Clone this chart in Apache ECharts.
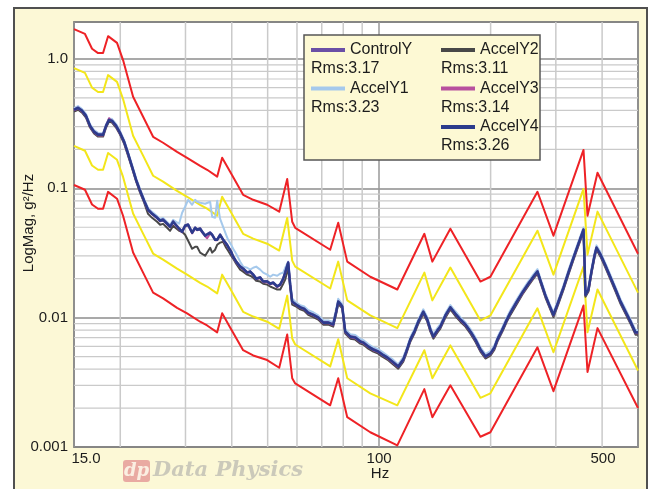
<!DOCTYPE html>
<html>
<head>
<meta charset="utf-8">
<script src="https://cdn.jsdelivr.net/npm/echarts@6/dist/echarts.min.js"></script>
<style>
  html, body { margin: 0; padding: 0; background: #ffffff; }
  #wrap { position: relative; width: 650px; height: 489px; overflow: hidden; }
  #frame { position: absolute; left: 13px; top: 7px; width: 635px; height: 490px; box-sizing: border-box;
           background: #fcf8d6; border: 2px solid #505050; }
  #chart { position: absolute; left: 0; top: 0; width: 650px; height: 489px; }
</style>
</head>
<body>
<div id="wrap"><div id="frame"></div><div id="chart"></div></div>
<script>
// Test profile limit lines (abort / alarm), breakpoints in Hz
const limitHz = [15, 16.06, 16.78, 17.42, 17.97, 18.54, 19.6, 20.35, 21.66, 23.05, 24.53, 26.1, 28.47, 30.3, 32.86, 34.32, 36.53, 37.68, 39.6, 42.93, 45.7, 49.85, 53.73, 56.47, 58.25, 59.35, 73.77, 77.54, 78.51, 82.01, 94.64, 111.97, 132.47, 139.24, 155.7, 187.7, 199.7, 267.6, 295.6, 356.3, 365.3, 388.7, 500];
const abortHigh = [1.70, 1.56, 1.20, 1.11, 1.11, 1.50, 1.33, 0.98, 0.51, 0.357, 0.250, 0.225, 0.191, 0.172, 0.149, 0.139, 0.123, 0.172, 0.134, 0.089, 0.0815, 0.0746, 0.0659, 0.118, 0.0551, 0.0495, 0.0335, 0.0542, 0.0532, 0.0271, 0.0207, 0.0165, 0.0445, 0.0271, 0.0487, 0.0190, 0.0207, 0.0940, 0.0430, 0.198, 0.0613, 0.132, 0.0312];
const alarmHigh = [0.85, 0.78, 0.60, 0.555, 0.555, 0.75, 0.665, 0.49, 0.255, 0.179, 0.125, 0.1125, 0.0955, 0.086, 0.0745, 0.0695, 0.0615, 0.086, 0.067, 0.0445, 0.0408, 0.0373, 0.033, 0.059, 0.0276, 0.0248, 0.0168, 0.0271, 0.0266, 0.0136, 0.0104, 0.0083, 0.0223, 0.0136, 0.0244, 0.0095, 0.0104, 0.047, 0.0215, 0.099, 0.0307, 0.066, 0.0156];
const alarmLow = [0.2125, 0.195, 0.15, 0.139, 0.139, 0.1875, 0.166, 0.1225, 0.0638, 0.0446, 0.0313, 0.0281, 0.0239, 0.0215, 0.0186, 0.0174, 0.0154, 0.0215, 0.0168, 0.0111, 0.0102, 0.0093, 0.0082, 0.0148, 0.0069, 0.0062, 0.0042, 0.0068, 0.0067, 0.0034, 0.0026, 0.0021, 0.0056, 0.0034, 0.0061, 0.0024, 0.0026, 0.0118, 0.0054, 0.0248, 0.0077, 0.0165, 0.0039];
const abortLow = [0.106, 0.0975, 0.075, 0.0694, 0.0694, 0.0938, 0.0831, 0.0613, 0.0319, 0.0223, 0.0156, 0.0141, 0.0119, 0.0108, 0.0093, 0.0087, 0.0077, 0.0108, 0.0084, 0.0056, 0.0051, 0.0047, 0.0041, 0.0074, 0.0034, 0.0031, 0.0021, 0.0034, 0.0033, 0.0017, 0.0013, 0.00103, 0.0028, 0.0017, 0.003, 0.0012, 0.0013, 0.0059, 0.0027, 0.0124, 0.0038, 0.0083, 0.002];

// Measured channels, shared frequency lines (Hz)
const freqHz = [
  15, 15.38, 15.77, 16.16, 16.57, 16.99, 17.42, 17.97, 18.31, 18.65,
  19.0, 19.48, 19.97, 20.48, 20.99, 21.52, 22.07, 22.62, 23.19, 23.77,
  24.37, 25.14, 25.62, 26.1, 26.76, 27.26, 27.78, 28.12, 28.83, 29.38,
  29.93, 30.5, 31.26, 31.85, 32.25, 32.86, 33.27, 33.9, 34.32, 34.97,
  35.41, 36.07, 36.53, 37.21, 37.91, 38.63, 39.11, 39.85, 40.35, 41.11,
  42.15, 42.94, 44.02, 44.85, 45.7, 46.56, 47.73, 48.63, 49.86, 50.8,
  51.76, 53.06, 54.06, 55.08, 55.77, 56.81, 57.52, 58.24, 59.71, 61.22,
  62.76, 64.34, 66.38, 68.48, 70.64, 72.88, 75.16, 76.58, 77.54, 78.51,
  79.49, 80.99, 83.56, 86.2, 88.93, 90.61, 93.47, 96.43, 99.47, 102.0,
  105.2, 108.5, 112.6, 116.2, 118.4, 121.4, 124.5, 127.6, 131.6, 134.9,
  137.5, 140.1, 143.6, 146.3, 151.0, 155.7, 160.6, 165.7, 171.0, 176.4,
  181.9, 187.7, 193.6, 199.7, 204.8, 208.6, 215.2, 220.6, 226.2, 234.8,
  243.7, 253.0, 261.0, 267.6, 274.3, 281.2, 288.3, 295.6, 304.9, 314.5,
  324.4, 334.9, 345.4, 356.3, 358.5, 360.7, 367.5, 374.4, 381.5, 386.3,
  396.0, 408.5, 421.4, 434.8, 448.5, 462.7, 477.3, 492.3, 500
];
const controlY = [
  0.408, 0.422, 0.401, 0.367, 0.307, 0.276, 0.262, 0.262, 0.307, 0.341,
  0.335, 0.307, 0.271, 0.231, 0.187, 0.148, 0.117, 0.0966, 0.0809, 0.0689,
  0.0641, 0.0598, 0.0567, 0.0577, 0.0537, 0.0509, 0.0557, 0.0547, 0.0492, 0.0466,
  0.0518, 0.0528, 0.0458, 0.0500, 0.0483, 0.0492, 0.0466, 0.0434, 0.0419, 0.0458,
  0.0441, 0.0404, 0.0404, 0.0441, 0.0404, 0.0377, 0.0357, 0.0326, 0.0299, 0.0274,
  0.0250, 0.0241, 0.0225, 0.0229, 0.0217, 0.0202, 0.0206, 0.0192, 0.0192, 0.0185,
  0.0188, 0.0176, 0.0182, 0.0202, 0.0225, 0.0269, 0.0182, 0.0134, 0.0127, 0.0121,
  0.0118, 0.0110, 0.0106, 0.0101, 0.00924, 0.00924, 0.00892, 0.0112, 0.0134, 0.0129,
  0.0123, 0.00787, 0.00720, 0.00708, 0.00660, 0.00647, 0.00603, 0.00572, 0.00551, 0.00523,
  0.00496, 0.00462, 0.00422, 0.00479, 0.00551, 0.00683, 0.00787, 0.00940, 0.0112, 0.00975,
  0.00816, 0.00720, 0.00802, 0.00861, 0.0105, 0.0121, 0.0108, 0.00975, 0.00892, 0.00787,
  0.00683, 0.00572, 0.00505, 0.00532, 0.00593, 0.00683, 0.00816, 0.00957, 0.0110, 0.0132,
  0.0158, 0.0185, 0.0209, 0.0229, 0.0185, 0.0149, 0.0125, 0.0106, 0.0134, 0.0172,
  0.0225, 0.0294, 0.0377, 0.0483, 0.0283, 0.0152, 0.0167, 0.0229, 0.0304, 0.0350,
  0.0310, 0.0255, 0.0206, 0.0167, 0.0134, 0.0112, 0.00940, 0.00774, 0.00774
];
const accelY1 = [
  0.416, 0.432, 0.410, 0.376, 0.314, 0.282, 0.268, 0.266, 0.312, 0.346,
  0.343, 0.315, 0.277, 0.237, 0.191, 0.152, 0.120, 0.0990, 0.0828, 0.0706,
  0.0657, 0.0611, 0.0580, 0.0590, 0.0550, 0.0522, 0.0570, 0.0560, 0.0532, 0.0647,
  0.0720, 0.0815, 0.0746, 0.0815, 0.0787, 0.0773, 0.0801, 0.0760, 0.0746, 0.0787,
  0.0602, 0.0592, 0.0801, 0.0581, 0.0504, 0.0437, 0.0400, 0.0366, 0.0341, 0.0312,
  0.0271, 0.0248, 0.0243, 0.0235, 0.0243, 0.0248, 0.0235, 0.0223, 0.0215, 0.0207,
  0.0215, 0.0211, 0.0219, 0.0223, 0.0243, 0.0271, 0.0190, 0.0140, 0.0131, 0.0125,
  0.0122, 0.0114, 0.0110, 0.0104, 0.00955, 0.00950, 0.00925, 0.0117, 0.0140, 0.0133,
  0.0127, 0.00815, 0.00745, 0.00735, 0.00685, 0.00670, 0.00625, 0.00590, 0.00570, 0.00545,
  0.00510, 0.00478, 0.00435, 0.00495, 0.00570, 0.00705, 0.00815, 0.00970, 0.0116, 0.0101,
  0.00845, 0.00745, 0.00830, 0.00890, 0.0108, 0.0125, 0.0112, 0.0101, 0.00920, 0.00815,
  0.00705, 0.00590, 0.00522, 0.00550, 0.00612, 0.00705, 0.00845, 0.00990, 0.0114, 0.0137,
  0.0163, 0.0191, 0.0216, 0.0237, 0.0191, 0.0154, 0.0129, 0.0110, 0.0139, 0.0177,
  0.0233, 0.0303, 0.0389, 0.0498, 0.0292, 0.0157, 0.0172, 0.0237, 0.0314, 0.0362,
  0.0320, 0.0263, 0.0213, 0.0172, 0.0139, 0.0116, 0.00970, 0.00800, 0.00800
];
const accelY2 = [
  0.392, 0.405, 0.385, 0.352, 0.295, 0.265, 0.251, 0.251, 0.295, 0.328,
  0.322, 0.295, 0.260, 0.222, 0.179, 0.143, 0.113, 0.0927, 0.0777, 0.0634,
  0.0591, 0.0551, 0.0522, 0.0531, 0.0495, 0.0469, 0.0512, 0.0504, 0.0470, 0.0461,
  0.0437, 0.0393, 0.0341, 0.0353, 0.0353, 0.0318, 0.0329, 0.0301, 0.0296, 0.0347,
  0.0318, 0.0335, 0.0366, 0.0380, 0.0386, 0.0347, 0.0329, 0.0301, 0.0286, 0.0261,
  0.0235, 0.0227, 0.0215, 0.0211, 0.0204, 0.0193, 0.0190, 0.0183, 0.0180, 0.0174,
  0.0170, 0.0165, 0.0165, 0.0183, 0.0197, 0.0243, 0.0170, 0.0126, 0.0122, 0.0116,
  0.0113, 0.0105, 0.0101, 0.00965, 0.00883, 0.00883, 0.00852, 0.0107, 0.0128, 0.0124,
  0.0118, 0.00752, 0.00688, 0.00676, 0.00630, 0.00619, 0.00576, 0.00546, 0.00527, 0.00500,
  0.00474, 0.00441, 0.00403, 0.00457, 0.00527, 0.00652, 0.00752, 0.00898, 0.0107, 0.00931,
  0.00780, 0.00688, 0.00766, 0.00822, 0.0100, 0.0116, 0.0103, 0.00931, 0.00852, 0.00752,
  0.00652, 0.00546, 0.00483, 0.00509, 0.00566, 0.00652, 0.00780, 0.00915, 0.0105, 0.0126,
  0.0151, 0.0177, 0.0200, 0.0219, 0.0177, 0.0143, 0.0120, 0.0101, 0.0128, 0.0164,
  0.0215, 0.0281, 0.0360, 0.0461, 0.0270, 0.0145, 0.0159, 0.0219, 0.0290, 0.0335,
  0.0296, 0.0243, 0.0197, 0.0159, 0.0128, 0.0107, 0.00898, 0.00739, 0.00739
];
const accelY3 = [
  0.400, 0.414, 0.393, 0.359, 0.301, 0.270, 0.256, 0.256, 0.301, 0.348,
  0.329, 0.301, 0.265, 0.227, 0.183, 0.146, 0.115, 0.0946, 0.0793, 0.0675,
  0.0629, 0.0586, 0.0555, 0.0565, 0.0527, 0.0499, 0.0545, 0.0537, 0.0482, 0.0456,
  0.0508, 0.0518, 0.0448, 0.0490, 0.0473, 0.0482, 0.0456, 0.0426, 0.0411, 0.0448,
  0.0433, 0.0396, 0.0396, 0.0433, 0.0396, 0.0369, 0.0349, 0.0320, 0.0293, 0.0268,
  0.0246, 0.0237, 0.0221, 0.0225, 0.0213, 0.0198, 0.0202, 0.0188, 0.0188, 0.0181,
  0.0184, 0.0172, 0.0178, 0.0198, 0.0221, 0.0263, 0.0178, 0.0132, 0.0125, 0.0119,
  0.0116, 0.0108, 0.0104, 0.00990, 0.00906, 0.00906, 0.00874, 0.0110, 0.0132, 0.0127,
  0.0121, 0.00771, 0.00706, 0.00694, 0.00646, 0.00635, 0.00591, 0.00560, 0.00541, 0.00513,
  0.00486, 0.00452, 0.00414, 0.00469, 0.00541, 0.00669, 0.00771, 0.00922, 0.0110, 0.00955,
  0.00800, 0.00706, 0.00786, 0.00843, 0.0103, 0.0119, 0.0106, 0.00955, 0.00874, 0.00771,
  0.00669, 0.00560, 0.00495, 0.00522, 0.00581, 0.00669, 0.00800, 0.00939, 0.0108, 0.0130,
  0.0154, 0.0181, 0.0205, 0.0225, 0.0181, 0.0147, 0.0123, 0.0104, 0.0132, 0.0168,
  0.0221, 0.0288, 0.0369, 0.0473, 0.0277, 0.0149, 0.0163, 0.0225, 0.0298, 0.0344,
  0.0304, 0.0249, 0.0202, 0.0163, 0.0132, 0.0110, 0.00922, 0.00758, 0.00758
];
const accelY4 = [
  0.404, 0.418, 0.397, 0.363, 0.304, 0.273, 0.259, 0.259, 0.304, 0.338,
  0.332, 0.304, 0.268, 0.229, 0.185, 0.147, 0.116, 0.0956, 0.0801, 0.0682,
  0.0635, 0.0592, 0.0561, 0.0571, 0.0532, 0.0504, 0.0551, 0.0542, 0.0487, 0.0461,
  0.0513, 0.0523, 0.0453, 0.0495, 0.0478, 0.0487, 0.0461, 0.0430, 0.0415, 0.0453,
  0.0437, 0.0400, 0.0400, 0.0437, 0.0400, 0.0373, 0.0353, 0.0323, 0.0296, 0.0271,
  0.0248, 0.0239, 0.0223, 0.0227, 0.0215, 0.0200, 0.0204, 0.0190, 0.0190, 0.0183,
  0.0186, 0.0174, 0.0180, 0.0200, 0.0223, 0.0266, 0.0180, 0.0133, 0.0126, 0.0120,
  0.0117, 0.0109, 0.0105, 0.0100, 0.00915, 0.00915, 0.00883, 0.0111, 0.0133, 0.0128,
  0.0122, 0.00779, 0.00713, 0.00701, 0.00653, 0.00641, 0.00597, 0.00566, 0.00546, 0.00518,
  0.00491, 0.00457, 0.00418, 0.00474, 0.00546, 0.00676, 0.00779, 0.00931, 0.0111, 0.00965,
  0.00808, 0.00713, 0.00794, 0.00852, 0.0104, 0.0120, 0.0107, 0.00965, 0.00883, 0.00779,
  0.00676, 0.00566, 0.00500, 0.00527, 0.00587, 0.00676, 0.00808, 0.00948, 0.0109, 0.0131,
  0.0156, 0.0183, 0.0207, 0.0227, 0.0183, 0.0148, 0.0124, 0.0105, 0.0133, 0.0170,
  0.0223, 0.0291, 0.0373, 0.0478, 0.0280, 0.0150, 0.0165, 0.0227, 0.0301, 0.0347,
  0.0307, 0.0252, 0.0204, 0.0165, 0.0133, 0.0111, 0.00931, 0.00766, 0.00766
];

const traceNames = ['ControlY', 'AccelY1', 'AccelY2', 'AccelY3', 'AccelY4'];
const traceRms = ['3.17', '3.23', '3.11', '3.14', '3.26'];
const traceColors = ['#6a4fa6', '#a5c9ec', '#484848', '#b8509e', '#2c3c8c'];
const abortColor = '#ee2226';
const alarmColor = '#f3e61a';

// Axis ticks and labels
const xTickValues = [15, 100, 500];
const xTickText = ['15.0', '100', '500'];
const yTickValues = [0.001, 0.01, 0.1, 1];
const yTickText = ['0.001', '0.01', '0.1', '1.0'];
const xMinorGrid = [20, 30, 40, 50, 60, 70, 80, 90, 200, 300, 400];
const yMinorGrid = [0.002, 0.003, 0.004, 0.005, 0.006, 0.007, 0.008, 0.009,
                    0.02, 0.03, 0.04, 0.05, 0.06, 0.07, 0.08, 0.09,
                    0.2, 0.3, 0.4, 0.5, 0.6, 0.7, 0.8, 0.9];

const FONT = '"Liberation Sans", Arial, Helvetica, sans-serif';
const TEXT = '#1c1c1c';

function tickIndex(values, v) {
  for (let i = 0; i < values.length; i++) {
    if (Math.abs(Math.log10(v) - Math.log10(values[i])) < 0.01) return i;
  }
  return -1;
}

function pairs(xs, ys) { return xs.map((x, i) => [x, ys[i]]); }

function line(name, xs, ys, color, width) {
  return {
    type: 'line', name: name, data: pairs(xs, ys),
    symbol: 'none', showSymbol: false, silent: true, clip: true,
    lineStyle: { color: color, width: width, join: 'round' },
    itemStyle: { color: color }
  };
}

function minorLines(horizontal) {
  return function (params, api) {
    const cs = params.coordSys;
    const p = api.coord([api.value(0), api.value(1)]);
    const shape = horizontal
      ? { x1: cs.x, y1: p[1], x2: cs.x + cs.width, y2: p[1] }
      : { x1: p[0], y1: cs.y, x2: p[0], y2: cs.y + cs.height };
    return { type: 'line', shape: shape, silent: true,
             style: { stroke: '#cacaca', lineWidth: horizontal ? 1.2 : 1.5 } };
  };
}

// Legend box: two columns, each entry followed by its RMS line
const legendSlots = [[0, 0], [0, 1], [1, 0], [1, 1], [1, 2]];
const legendEls = [{
  type: 'rect', shape: { x: 304, y: 35, width: 236, height: 125 },
  style: { fill: '#fdf9d4', stroke: '#555555', lineWidth: 1.5 }, z: 100
}];
traceNames.forEach((name, i) => {
  const col = legendSlots[i][0], row = legendSlots[i][1];
  const x0 = col === 0 ? 311 : 441;
  const y0 = 50 + row * 38.5;
  legendEls.push({ type: 'line', shape: { x1: x0, y1: y0, x2: x0 + 34, y2: y0 },
    style: { stroke: traceColors[i], lineWidth: 4 }, z: 101 });
  legendEls.push({ type: 'text', x: x0 + 39, y: y0,
    style: { text: name, fill: TEXT, font: '16px ' + FONT, textVerticalAlign: 'middle' }, z: 101 });
  legendEls.push({ type: 'text', x: x0, y: y0 + 19,
    style: { text: 'Rms:' + traceRms[i], fill: TEXT, font: '16px ' + FONT, textVerticalAlign: 'middle' }, z: 101 });
});

const chart = echarts.init(document.getElementById('chart'), null, { renderer: 'canvas' });

chart.setOption({
  animation: false,
  grid: { left: 74, right: 12, top: 22, bottom: 42, show: true,
          backgroundColor: '#ffffff', borderColor: '#4a4a4a', borderWidth: 1.5 },
  xAxis: {
    type: 'log', logBase: 10, min: 15, max: 500,
    axisLine: { show: false }, axisTick: { show: false },
    splitLine: { show: true, lineStyle: { color: '#999999', width: 1.5 } },
    axisLabel: {
      margin: 4, color: TEXT, fontFamily: FONT, fontSize: 15,
      formatter: function (v) {
        const i = tickIndex(xTickValues, v);
        if (i < 0) return '';
        return '{' + ['l', 'c', 'r'][i] + '|' + xTickText[i] + '}';
      },
      rich: {
        l: { fontFamily: FONT, fontSize: 15, color: TEXT, padding: [0, 0, 0, 24] },
        c: { fontFamily: FONT, fontSize: 15, color: TEXT },
        r: { fontFamily: FONT, fontSize: 15, color: TEXT, padding: [0, 70, 0, 0] }
      }
    }
  },
  yAxis: {
    type: 'log', logBase: 10, min: 0.001, max: 1.93,
    axisLine: { show: false }, axisTick: { show: false },
    splitLine: { show: true, lineStyle: { color: '#8c8c8c', width: 1.5 } },
    axisLabel: {
      margin: 6, color: TEXT, fontFamily: FONT, fontSize: 15, showMaxLabel: false,
      formatter: function (v) {
        const i = tickIndex(yTickValues, v);
        return i < 0 ? '' : yTickText[i];
      }
    }
  },
  graphic: legendEls.concat([
    { type: 'text', x: 29, y: 223, rotation: Math.PI / 2,
      style: { text: 'LogMag, g²/Hz', fill: TEXT, font: '15px ' + FONT,
               textAlign: 'center', textVerticalAlign: 'middle' }, z: 100 },
    { type: 'text', x: 380, y: 474,
      style: { text: 'Hz', fill: TEXT, font: '15px ' + FONT,
               textAlign: 'center', textVerticalAlign: 'middle' }, z: 100 },
    { type: 'rect', shape: { x: 123, y: 460, width: 27, height: 22, r: 3 },
      style: { fill: '#e9aaa2' }, z: 100 },
    { type: 'text', x: 136.5, y: 471,
      style: { text: 'dp', fill: '#fbefe2', font: 'italic bold 18px "DejaVu Serif", serif',
               textAlign: 'center', textVerticalAlign: 'middle' }, z: 101 },
    { type: 'text', x: 153, y: 471,
      style: { text: 'Data Physics', fill: '#cbc9ba', font: 'italic bold 21px "DejaVu Serif", serif',
               textVerticalAlign: 'middle' }, z: 100 }
  ]),
  series: [
    { type: 'custom', name: 'minor-y', renderItem: minorLines(true), silent: true,
      data: yMinorGrid.map(v => [100, v]) },
    { type: 'custom', name: 'minor-x', renderItem: minorLines(false), silent: true,
      data: xMinorGrid.map(v => [v, 0.01]) },
    line('Abort+', limitHz, abortHigh, abortColor, 2),
    line('Alarm+', limitHz, alarmHigh, alarmColor, 2),
    line('Alarm-', limitHz, alarmLow, alarmColor, 2),
    line('Abort-', limitHz, abortLow, abortColor, 2),
    line(traceNames[2], freqHz, accelY2, traceColors[2], 2),
    line(traceNames[1], freqHz, accelY1, traceColors[1], 2),
    line(traceNames[0], freqHz, controlY, traceColors[0], 2),
    line(traceNames[3], freqHz, accelY3, traceColors[3], 2),
    line(traceNames[4], freqHz, accelY4, traceColors[4], 2.5)
  ]
});
</script>
</body>
</html>
